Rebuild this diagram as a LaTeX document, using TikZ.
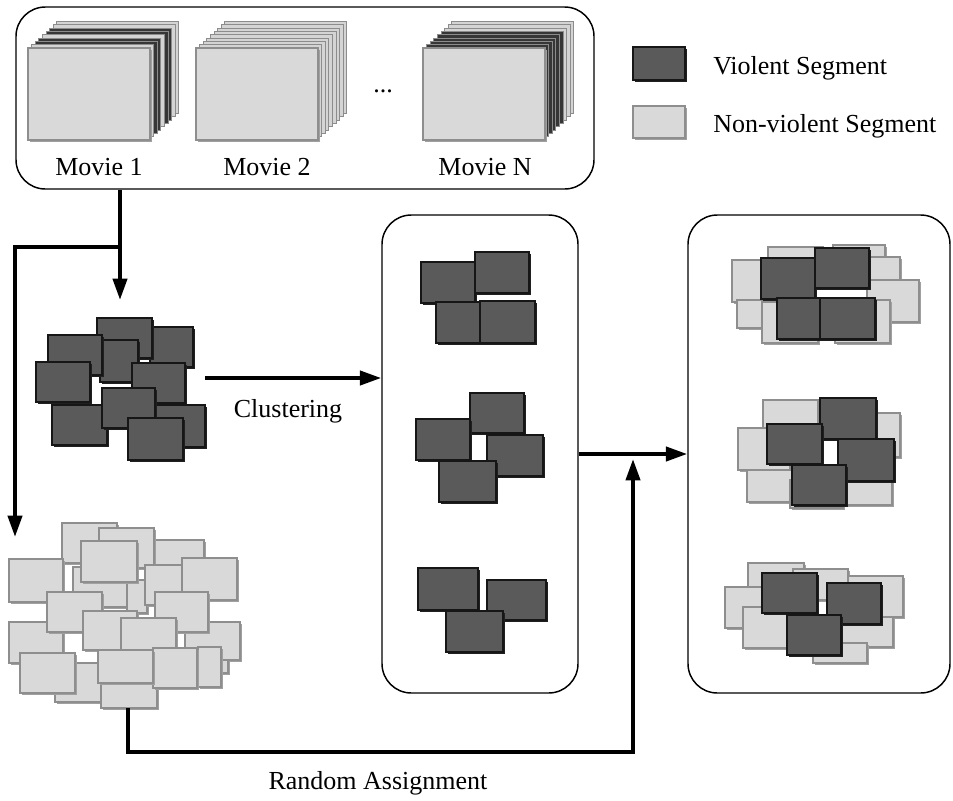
\documentclass[tikz,border=0pt]{standalone}
\usepackage{fontspec}
\setmainfont{Liberation Serif}
\usetikzlibrary{arrows.meta}

\definecolor{vfill}{HTML}{5A5A5A}
\definecolor{vedge}{HTML}{161616}
\definecolor{vshade}{HTML}{202020}
\definecolor{lfill}{HTML}{D9D9D9}
\definecolor{ledge}{HTML}{8E8E8E}
\definecolor{lshade}{HTML}{A0A0A0}
\definecolor{layL}{HTML}{D4D4D4}
\definecolor{layD}{HTML}{363636}

\tikzset{
  vbody/.style={fill=vfill, draw=vedge, line width=1.5pt},
  vshadow/.style={fill=vshade},
  lbody/.style={fill=lfill, draw=ledge, line width=1.5pt},
  lshadow/.style={fill=lshade},
  layer/.style={draw=black!45, line width=0.75pt},
  bigbox/.style={draw=black, line width=1.1pt, rounded corners=22pt, inner sep=0pt},
  conn/.style={line width=3pt, -{Triangle[length=16pt,width=10.5pt]}},
  lbl/.style={inner sep=0pt, font=\fontsize{19.5}{23}\selectfont}
}

% a violent segment (dark) and a non-violent segment (light), corners in px
\newcommand\vseg[4]{%
  \fill[vshadow] (#1+2,#2+2) rectangle (#3+2,#4+2);
  \filldraw[vbody] (#1,#2) rectangle (#3,#4);}
\newcommand\lseg[4]{%
  \fill[lshadow] (#1+2,#2+2) rectangle (#3+2,#4+2);
  \filldraw[lbody] (#1,#2) rectangle (#3,#4);}

% a movie drawn as a stack of frames; #3 lists the back layers, back first
\newcommand\moviestack[3]{%
  \foreach \c [count=\k] in {#3}{%
    \pgfmathsetmacro\off{9-\k}%
    \filldraw[layer, fill=\c] (#1+3.6*\off, #2-3.3*\off) rectangle ++(122,92);
  }%
  \lseg{#1}{#2}{#1+122}{#2+92}%
}

\begin{document}
\begin{tikzpicture}[x=0.75pt, y=-0.75pt]
\useasboundingbox (0,0) rectangle (953,800);

% ---------- movies ----------
\node[bigbox, minimum width=433.5pt, minimum height=136.5pt] (movies) at (305,98) {};
\moviestack{28}{48}{layL,layL,layD,layD,layL,layD,layD,layL}
\moviestack{196}{48}{layL,layL,layL,layL,layL,layL,layL,layL}
\moviestack{423}{48}{layL,layL,layL,layD,layD,layD,layD,layD}
\node[lbl, anchor=base] (m1) at (99,175) {Movie 1};
\node[lbl, anchor=base] (m2) at (267,175) {Movie 2};
\node[lbl, anchor=base] (mn) at (485,175) {Movie N};
\node[lbl, anchor=base] (dots) at (383,92) {...};

% ---------- legend ----------
\fill[vshadow] (635,49) rectangle (687,82);
\filldraw[fill=vfill, draw=vedge, line width=2.2pt] (633,47) rectangle (685,80);
\fill[lshadow] (635,108) rectangle (687,140);
\filldraw[fill=lfill, draw=ledge, line width=2.2pt] (633,106) rectangle (685,138);
\node[lbl, anchor=base west] (lgv) at (713,74) {Violent Segment};
\node[lbl, anchor=base west] (lgn) at (713,132) {Non-violent Segment};

% ---------- all violent segments ----------
\vseg{150}{327}{193}{367}
\vseg{97}{318}{152}{358}
\vseg{100}{340}{138}{382}
\vseg{48}{335}{102}{375}
\vseg{36}{362}{90}{402}
\vseg{132}{363}{185}{403}
\vseg{52}{405}{107}{445}
\vseg{155}{405}{205}{447}
\vseg{102}{388}{155}{428}
\vseg{128}{418}{183}{460}

% ---------- all non-violent segments ----------
\lseg{62}{523}{117}{563}
\lseg{153}{540}{204}{577}
\lseg{99}{528}{154}{568}
\lseg{73}{567}{127}{607}
\lseg{127}{580}{147}{613}
\lseg{9}{559}{63}{602}
\lseg{81}{541}{137}{582}
\lseg{145}{565}{187}{605}
\lseg{182}{558}{237}{600}
\lseg{9}{622}{63}{663}
\lseg{185}{622}{240}{660}
\lseg{218}{660}{228}{673}
\lseg{155}{592}{208}{632}
\lseg{47}{592}{102}{632}
\lseg{55}{663}{108}{702}
\lseg{101}{668}{157}{708}
\lseg{198}{647}{221}{687}
\lseg{83}{611}{137}{650}
\lseg{121}{618}{176}{658}
\lseg{153}{648}{197}{688}
\lseg{98}{650}{153}{683}
\lseg{20}{653}{75}{693}

% ---------- clusters ----------
\node[bigbox, minimum width=147pt, minimum height=358.5pt] (clusters) at (480,454) {};
\vseg{421}{262}{475}{303}
\vseg{475}{252}{529}{293}
\vseg{436}{302}{480}{343}
\vseg{480}{301}{535}{343}

\vseg{470}{393}{524}{433}
\vseg{416}{419}{470}{460}
\vseg{487}{435}{543}{476}
\vseg{439}{461}{496}{502}

\vseg{418}{568}{478}{610}
\vseg{487}{580}{546}{620}
\vseg{446}{611}{503}{652}

% ---------- mixed clusters ----------
\node[bigbox, minimum width=196.5pt, minimum height=358.5pt] (mixed) at (819,454) {};
\lseg{768}{247}{823}{283}
\lseg{833}{245}{885}{282}
\lseg{732}{260}{787}{302}
\lseg{868}{257}{900}{282}
\lseg{867}{280}{919}{322}
\lseg{737}{300}{790}{328}
\lseg{762}{302}{818}{343}
\lseg{835}{300}{890}{343}
\vseg{761}{258}{815}{299}
\vseg{815}{248}{869}{288}
\vseg{777}{298}{820}{339}
\vseg{820}{298}{875}{339}

\lseg{763}{400}{818}{433}
\lseg{738}{428}{790}{470}
\lseg{845}{413}{900}{457}
\lseg{747}{470}{793}{502}
\lseg{790}{480}{843}{508}
\lseg{843}{473}{892}{505}
\vseg{820}{398}{876}{439}
\vseg{767}{424}{822}{464}
\vseg{838}{439}{894}{481}
\vseg{792}{465}{846}{505}

\lseg{748}{563}{804}{602}
\lseg{793}{569}{848}{600}
\lseg{725}{587}{780}{628}
\lseg{848}{576}{903}{617}
\lseg{743}{607}{790}{648}
\lseg{840}{617}{893}{647}
\lseg{813}{643}{867}{663}
\vseg{762}{573}{817}{613}
\vseg{827}{583}{881}{624}
\vseg{787}{615}{841}{655}

% ---------- connectors ----------
\coordinate (split) at (120,247);
\coordinate (vtip) at (120,300);
\coordinate (ntip) at (15,537);
\draw[conn] (movies.south -| split) -- (vtip);
\draw[conn] (split) -| (ntip);

\coordinate (cstart) at (205,378);
\draw[conn] (cstart) -- (clusters.west |- cstart);
\node[lbl, anchor=base] (clab) at (288,417) {Clustering};

\draw[conn] (clusters.east) -- (mixed.west);

\coordinate (rstart) at (128,708);
\coordinate (rcorner) at (128,752);
\coordinate (rtip) at (633,459);
\draw[conn] (rstart) -- (rcorner) -| (rtip);
\node[lbl, anchor=base] (rlab) at (378,789) {Random Assignment};
\end{tikzpicture}
\end{document}
